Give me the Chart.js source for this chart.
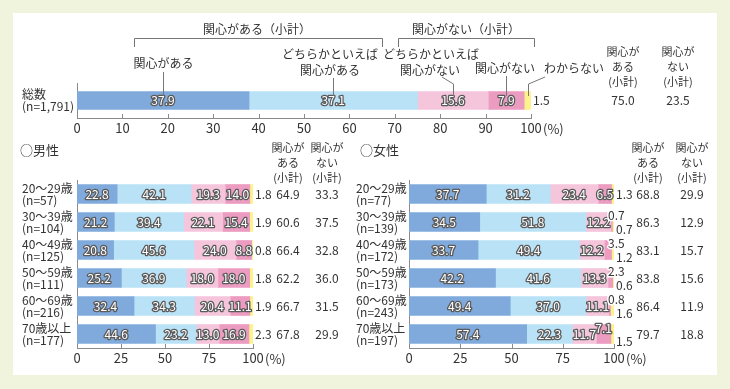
<!DOCTYPE html>
<html>
<head>
<meta charset="utf-8">
<script src="https://cdn.jsdelivr.net/npm/chart.js@4.4.1/dist/chart.umd.min.js"></script>
<style>
  body { margin: 0; width: 730px; height: 389px; background: #f1f4dc; position: relative; overflow: hidden; }
  #panel { position: absolute; left: 13px; top: 13px; width: 704px; height: 362px; background: #fff; }
  canvas { position: absolute; left: 0; top: 0; }
</style>
</head>
<body>
<div id="panel"></div>
<canvas id="cTotal" width="730" height="389"></canvas>
<canvas id="cMale" width="730" height="389"></canvas>
<canvas id="cFemale" width="730" height="389"></canvas>
<script>
// 回答区分
const seriesNames = ['関心がある', 'どちらかといえば関心がある', 'どちらかといえば関心がない', '関心がない', 'わからない'];
const seriesColors = ['#80aadc', '#b9e2f7', '#f5c5dc', '#ec9bc1', '#fdf38c'];

// 総数
const totalLabel = ['総数'];
const totalN = [1791];
const totalValues = [37.9, 37.1, 15.6, 7.9, 1.5];
const totalSubYes = [75.0];
const totalSubNo = [23.5];
const totalTicks = [0, 10, 20, 30, 40, 50, 60, 70, 80, 90, 100];

// 年齢区分
const ageGroups = ['20〜29歳', '30〜39歳', '40〜49歳', '50〜59歳', '60〜69歳', '70歳以上'];
const sexTicks = [0, 25, 50, 75, 100];

// 男性
const maleN = [57, 104, 125, 111, 216, 177];
const maleInterested = [22.8, 21.2, 20.8, 25.2, 32.4, 44.6];
const maleSomewhat = [42.1, 39.4, 45.6, 36.9, 34.3, 23.2];
const maleSomewhatNot = [19.3, 22.1, 24.0, 18.0, 20.4, 13.0];
const maleNot = [14.0, 15.4, 8.8, 18.0, 11.1, 16.9];
const maleUnknown = [1.8, 1.9, 0.8, 1.8, 1.9, 2.3];
const maleSubYes = [64.9, 60.6, 66.4, 62.2, 66.7, 67.8];
const maleSubNo = [33.3, 37.5, 32.8, 36.0, 31.5, 29.9];

// 女性
const femaleN = [77, 139, 172, 173, 243, 197];
const femaleInterested = [37.7, 34.5, 33.7, 42.2, 49.4, 57.4];
const femaleSomewhat = [31.2, 51.8, 49.4, 41.6, 37.0, 22.3];
const femaleSomewhatNot = [23.4, 12.2, 12.2, 13.3, 11.1, 11.7];
const femaleNot = [6.5, 0.7, 3.5, 2.3, 0.8, 7.1];
const femaleUnknown = [1.3, 0.7, 1.2, 0.6, 1.6, 1.5];
const femaleSubYes = [68.8, 86.3, 83.1, 83.8, 86.4, 79.7];
const femaleSubNo = [29.9, 12.9, 15.7, 15.6, 11.9, 18.8];

const FONT = '"Noto Sans CJK JP", "Noto Sans", sans-serif';
const TEXT = '#333';
const AXIS = '#8a8a8a';
Chart.defaults.font.family = FONT;

// グラフごとの配置 (0 = 通常, 1 = 小さい値を上下に分ける, 2 = 上にずらす)
const deco = {
  cTotal: { labels: totalLabel, n: totalN, yes: totalSubYes, no: totalSubNo, labelX: 22,
            colX: [623, 678], headY: 52, title: null, modes: [0] },
  cMale: { labels: ageGroups, n: maleN, yes: maleSubYes, no: maleSubNo, labelX: 22,
           colX: [288, 327], headY: 148, title: '○男性', titleX: 20, modes: [0, 0, 0, 0, 0, 0] },
  cFemale: { labels: ageGroups, n: femaleN, yes: femaleSubYes, no: femaleSubNo, labelX: 356,
             colX: [648, 692], headY: 148, title: '○女性', titleX: 360, modes: [0, 1, 1, 1, 1, 2] }
};

function whiteText(ctx, txt, x, y, align) {
  ctx.textAlign = align || 'center';
  ctx.lineJoin = 'round';
  ctx.lineWidth = 2.6;
  ctx.strokeStyle = '#5a5a5a';
  ctx.strokeText(txt, x, y);
  ctx.fillStyle = '#fff';
  ctx.fillText(txt, x, y);
}

function darkText(ctx, txt, x, y, align, halo) {
  ctx.textAlign = align || 'center';
  if (halo) {
    ctx.lineJoin = 'round';
    ctx.lineWidth = 3;
    ctx.strokeStyle = '#fff';
    ctx.strokeText(txt, x, y);
  }
  ctx.fillStyle = TEXT;
  ctx.fillText(txt, x, y);
}

const decoPlugin = {
  id: 'deco',
  afterDatasetsDraw(chart) {
    const c = deco[chart.canvas.id];
    const ctx = chart.ctx;
    const xs = chart.scales.x, ys = chart.scales.y;
    const area = chart.chartArea;
    ctx.save();

    // 内向きの目盛り
    ctx.strokeStyle = AXIS;
    ctx.lineWidth = 1;
    xs.ticks.forEach(t => {
      if (t.value === 0) return;
      const px = Math.round(xs.getPixelForValue(t.value)) + 0.5;
      ctx.beginPath();
      ctx.moveTo(px, area.bottom);
      ctx.lineTo(px, area.bottom - 4);
      ctx.stroke();
    });

    ctx.textBaseline = 'middle';
    ctx.font = '13px ' + FONT;
    ctx.fillStyle = TEXT;
    ctx.textAlign = 'left';
    ctx.fillText('(%)', xs.getPixelForValue(100) + 12, area.bottom + 11);

    // 帯の数値
    ctx.font = '12px ' + FONT;
    chart.data.datasets.forEach((ds, i) => {
      const meta = chart.getDatasetMeta(i);
      meta.data.forEach((bar, j) => {
        const txt = ds.data[j].toFixed(1);
        const mode = c.modes[j];
        if (i === 4) {
          darkText(ctx, txt, area.right + 2, mode ? bar.y + 7 : bar.y, 'left', mode > 0);
          return;
        }
        if (i === 3 && mode === 1) {
          darkText(ctx, txt, area.right - 6, bar.y - 7, 'left', true);
          return;
        }
        const cx = (bar.x + bar.base) / 2;
        const cy = (i === 3 && mode === 2) ? bar.y - 6 : bar.y;
        whiteText(ctx, txt, cx, cy);
      });
    });

    // 行ラベル
    ctx.font = '12px ' + FONT;
    c.labels.forEach((lab, j) => {
      const y = ys.getPixelForValue(j);
      darkText(ctx, lab, c.labelX, y - 6, 'left');
      darkText(ctx, '(n=' + c.n[j].toLocaleString('en-US') + ')', c.labelX, y + 6, 'left');
      darkText(ctx, c.yes[j].toFixed(1), c.colX[0], y, 'center');
      darkText(ctx, c.no[j].toFixed(1), c.colX[1], y, 'center');
    });

    // 小計の見出し
    ctx.font = '11px ' + FONT;
    [['関心が', 'ある', '(小計)'], ['関心が', 'ない', '(小計)']].forEach((lines, k) => {
      lines.forEach((s, m) => darkText(ctx, s, c.colX[k], c.headY + m * 15, 'center'));
    });

    if (c.title) {
      ctx.font = '13px ' + FONT;
      darkText(ctx, c.title, c.titleX, 150, 'left');
    }
    ctx.restore();
  }
};

const totalNotes = {
  id: 'totalNotes',
  afterDraw(chart) {
    const ctx = chart.ctx, xs = chart.scales.x;
    const mid = [];
    let s = 0;
    totalValues.forEach(v => { mid.push(Math.round(xs.getPixelForValue(s + v / 2)) + 0.5); s += v; });
    ctx.save();
    ctx.strokeStyle = '#777';
    ctx.lineWidth = 1;
    const line = pts => {
      ctx.beginPath();
      pts.forEach((p, k) => k ? ctx.lineTo(p[0], p[1]) : ctx.moveTo(p[0], p[1]));
      ctx.stroke();
    };
    line([[134.5, 47], [134.5, 38.5], [382.5, 38.5], [382.5, 47]]);
    line([[398.5, 47], [398.5, 38.5], [534.5, 38.5], [534.5, 47]]);
    line([[mid[0], 72], [mid[0], 96]]);
    line([[mid[1], 78], [mid[1], 96]]);
    line([[442, 77], [mid[2], 84], [mid[2], 96]]);
    line([[mid[3], 76], [mid[3], 96]]);
    line([[545, 77], [mid[4], 84], [mid[4], 96]]);

    ctx.textBaseline = 'middle';
    ctx.font = '12px ' + FONT;
    darkText(ctx, '関心がある（小計）', 257, 29, 'center');
    darkText(ctx, '関心がない（小計）', 466, 29, 'center');
    darkText(ctx, '関心がある', mid[0], 63, 'center');
    darkText(ctx, 'どちらかといえば', 330, 54, 'center');
    darkText(ctx, '関心がある', 330, 70, 'center');
    darkText(ctx, 'どちらかといえば', 431, 54, 'center');
    darkText(ctx, '関心がない', 430, 70, 'center');
    darkText(ctx, '関心がない', 505, 68, 'center');
    darkText(ctx, 'わからない', 574, 68, 'center');
    ctx.restore();
  }
};

function makeChart(id, labels, series, box, ticks, thickness, extra) {
  const axisH = 20;
  return new Chart(document.getElementById(id), {
    type: 'bar',
    data: {
      labels: labels,
      datasets: series.map((d, i) => ({
        label: seriesNames[i],
        data: d,
        backgroundColor: seriesColors[i],
        borderWidth: 0,
        barThickness: thickness
      }))
    },
    options: {
      indexAxis: 'y',
      responsive: false,
      animation: false,
      layout: { padding: { left: box.left, right: 730 - box.right, top: box.top, bottom: 389 - box.bottom - axisH } },
      plugins: { legend: { display: false }, tooltip: { enabled: false } },
      scales: {
        x: {
          stacked: true, min: 0, max: 100,
          afterBuildTicks: s => { s.ticks = ticks.map(v => ({ value: v })); },
          ticks: { color: TEXT, font: { size: 13 }, padding: 2, maxRotation: 0, autoSkip: false },
          grid: { display: false, drawTicks: false },
          border: { display: true, color: AXIS },
          afterFit: s => { s.height = axisH; }
        },
        y: {
          stacked: true,
          ticks: { display: false },
          grid: { display: false, drawTicks: false },
          border: { display: true, color: AXIS },
          afterFit: s => { s.width = 0; }
        }
      }
    },
    plugins: extra ? [decoPlugin, extra] : [decoPlugin]
  });
}

makeChart('cTotal', totalLabel, totalValues.map(v => [v]),
  { left: 77, right: 531, top: 83, bottom: 118 }, totalTicks, 18, totalNotes);

makeChart('cMale', ageGroups,
  [maleInterested, maleSomewhat, maleSomewhatNot, maleNot, maleUnknown],
  { left: 77, right: 253, top: 180, bottom: 348 }, sexTicks, 19);

makeChart('cFemale', ageGroups,
  [femaleInterested, femaleSomewhat, femaleSomewhatNot, femaleNot, femaleUnknown],
  { left: 409, right: 614, top: 180, bottom: 348 }, sexTicks, 19);
</script>
</body>
</html>
